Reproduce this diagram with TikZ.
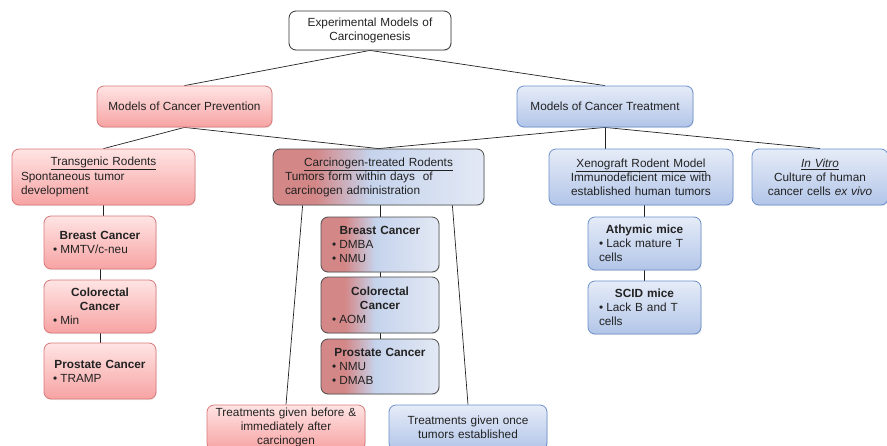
\documentclass[tikz,border=0pt]{standalone}
\usepackage{fontspec}
\setmainfont{Liberation Sans}
\usetikzlibrary{shadows,backgrounds}
\definecolor{redtop}{HTML}{FFE4E4}
\definecolor{redbot}{HTML}{F7A3A3}
\definecolor{redline}{HTML}{D9797A}
\definecolor{bluetop}{HTML}{E6ECF8}
\definecolor{bluebot}{HTML}{B2C5E8}
\definecolor{blueline}{HTML}{6B8FCB}
\definecolor{mixred}{HTML}{D48787}
\definecolor{mixblue}{HTML}{C5D3EC}
\definecolor{mixlight}{HTML}{E3E9F5}
\definecolor{txt}{HTML}{222222}
\pgfdeclarehorizontalshading{redblue}{100bp}{color(0bp)=(mixred); color(25bp)=(mixred); color(35bp)=(mixred); color(48bp)=(mixblue); color(75bp)=(mixlight); color(100bp)=(mixlight)}
\newcommand{\myfs}{\fontsize{11.8}{14}\selectfont}
\newlength{\bulw}\setlength{\bulw}{7.3pt}
\newcommand{\bitem}[1]{\par\hangindent=\bulw\hangafter=1\noindent\makebox[\bulw][l]{\textbullet}#1}
\tikzset{
  basebox/.style={rounded corners=7pt, line width=0.8pt, inner xsep=0pt, inner ysep=1pt,
    font=\myfs, text=txt,
    drop shadow={shadow xshift=0.8pt, shadow yshift=-1.2pt, opacity=0.15}},
  redbox/.style={basebox, draw=redline, top color=redtop, bottom color=redbot},
  bluebox/.style={basebox, draw=blueline, top color=bluetop, bottom color=bluebot},
  mixbox/.style={basebox, draw=black!70, shade, shading=redblue},
  rootbox/.style={basebox, draw=black!80, fill=white},
  conn/.style={draw=txt, line width=0.7pt},
  dims/.style n args={3}{minimum width=#1, text width=#2, minimum height=#3}
}
\begin{document}
\begin{tikzpicture}[x=1pt,y=-1pt]
\useasboundingbox (0,0) rectangle (887,445);

\node[rootbox, dims={162pt}{144pt}{39pt}, align=center] (root) at (370,30.5) {Experimental Models of\\Carcinogenesis};
\node[redbox, minimum width=175pt, minimum height=41pt] (prev) at (184.5,106.5) {Models of Cancer Prevention};
\node[bluebox, minimum width=176pt, minimum height=41pt] (treat) at (605,106.5) {Models of Cancer Treatment};

\node[redbox, dims={183pt}{165pt}{56pt}, align=left] (trans) at (103.5,177)
  {{\centering\underline{Transgenic Rodents}\par}\vspace{1.5pt}Spontaneous tumor\\development};
\node[mixbox, dims={211pt}{187pt}{56pt}, align=left] (carc) at (378.5,177)
  {{\centering\underline{Carcinogen-treated Rodents}\par}Tumors form within days~ of\\carcinogen administration};
\node[bluebox, dims={184pt}{166pt}{56pt}, align=center] (xeno) at (641,177)
  {\underline{Xenograft Rodent Model}\\Immunodeficient mice with\\established human tumors};
\node[bluebox, dims={136pt}{118pt}{56pt}, align=center] (invitro) at (820,177)
  {\underline{\textit{In Vitro}}\\Culture of human\\cancer cells \textit{ex vivo}};

\node[redbox, dims={112pt}{94pt}{53pt}, align=left] (lbreast) at (100,242.5)
  {{\centering\textbf{Breast Cancer}\par}\bitem{MMTV/c-neu}};
\node[redbox, dims={112pt}{94pt}{53pt}, align=left] (lcolo) at (100,306.5)
  {{\centering\textbf{Colorectal\\Cancer}\par}\bitem{Min}};
\node[redbox, dims={112pt}{94pt}{56pt}, align=left] (lpros) at (100,371)
  {{\centering\textbf{Prostate Cancer}\par}\bitem{TRAMP}};

\node[mixbox, dims={118pt}{96pt}{55pt}, align=left] (mbreast) at (380,244.5)
  {{\centering\textbf{Breast Cancer}\par}\bitem{DMBA}\bitem{NMU}};
\node[mixbox, dims={118pt}{96pt}{56pt}, align=left] (mcolo) at (380,305)
  {{\centering\textbf{Colorectal\\Cancer}\par}\bitem{AOM}};
\node[mixbox, dims={118pt}{96pt}{55pt}, align=left] (mpros) at (380,366.5)
  {{\centering\textbf{Prostate Cancer}\par}\bitem{NMU}\bitem{DMAB}};

\node[bluebox, dims={113pt}{91pt}{53pt}, align=left] (athy) at (644.5,243.5)
  {{\centering\textbf{Athymic mice}\par}\bitem{Lack mature T\newline cells}};
\node[bluebox, dims={113pt}{91pt}{53pt}, align=left] (scid) at (644.5,307.5)
  {{\centering\textbf{SCID mice}\par}\bitem{Lack B and T\newline cells}};

\node[redbox, dims={158pt}{152pt}{45pt}, align=center] (before) at (286,427.5)
  {Treatments given before \&\\immediately after\\carcinogen};
\node[bluebox, dims={158pt}{150pt}{45pt}, align=center] (once) at (468,427.5)
  {Treatments given once\\tumors established};

\begin{pgfonlayer}{background}
\draw[conn] (root.south) -- (prev.north);
\draw[conn] (root.south) -- (treat.north);
\draw[conn] (prev.south) -- (trans.north);
\draw[conn] (prev.south) -- (carc.north);
\draw[conn] (treat.south) -- (carc.north);
\draw[conn] (treat.south) -- (treat.south |- xeno.north);
\draw[conn] (treat.south) -- (invitro.north);
\draw[conn] (trans.south) -- (trans.south |- lbreast.north);
\draw[conn] (lbreast.south) -- (lcolo.north);
\draw[conn] (lcolo.south) -- (lpros.north);
\draw[conn] (mbreast.north |- carc.south) -- (mbreast.north);
\draw[conn] (mbreast.south) -- (mcolo.north);
\draw[conn] (mcolo.south) -- (mpros.north);
\draw[conn] ([xshift=30pt]carc.south west) -- (before.north);
\draw[conn] ([xshift=-32pt]carc.south east) -- (once.north);
\draw[conn] (athy.north |- xeno.south) -- (athy.north);
\draw[conn] (athy.south) -- (scid.north);
\end{pgfonlayer}
\end{tikzpicture}
\end{document}
